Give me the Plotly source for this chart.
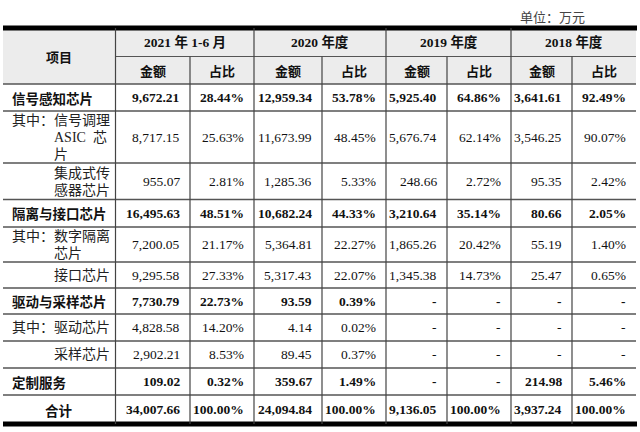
import plotly.graph_objects as go

# ---------------- data ----------------
row_labels = [
    ["信号感知芯片"],
    ["其中：信号调理", "ASIC　芯", "片"],
    ["集成式传", "感器芯片"],
    ["隔离与接口芯片"],
    ["其中：数字隔离", "芯片"],
    ["接口芯片"],
    ["驱动与采样芯片"],
    ["其中：驱动芯片"],
    ["采样芯片"],
    ["定制服务"],
    ["合计"],
]
bold_rows = [0, 3, 6, 9, 10]

periods = ["2021 年 1-6 月", "2020 年度", "2019 年度", "2018 年度"]
sub_headers = ["金额", "占比"]
corner_label = "项目"
unit_label = "单位：万元"

amt_2021 = [9672.21, 8717.15, 955.07, 16495.63, 7200.05, 9295.58, 7730.79, 4828.58, 2902.21, 109.02, 34007.66]
pct_2021 = [28.44, 25.63, 2.81, 48.51, 21.17, 27.33, 22.73, 14.20, 8.53, 0.32, 100.00]
amt_2020 = [12959.34, 11673.99, 1285.36, 10682.24, 5364.81, 5317.43, 93.59, 4.14, 89.45, 359.67, 24094.84]
pct_2020 = [53.78, 48.45, 5.33, 44.33, 22.27, 22.07, 0.39, 0.02, 0.37, 1.49, 100.00]
amt_2019 = [5925.40, 5676.74, 248.66, 3210.64, 1865.26, 1345.38, None, None, None, None, 9136.05]
pct_2019 = [64.86, 62.14, 2.72, 35.14, 20.42, 14.73, None, None, None, None, 100.00]
amt_2018 = [3641.61, 3546.25, 95.35, 80.66, 55.19, 25.47, None, None, None, 214.98, 3937.24]
pct_2018 = [92.49, 90.07, 2.42, 2.05, 1.40, 0.65, None, None, None, 5.46, 100.00]

columns = [amt_2021, pct_2021, amt_2020, pct_2020, amt_2019, pct_2019, amt_2018, pct_2018]
is_pct = [False, True, False, True, False, True, False, True]

# ---------------- layout geometry (pixels) ----------------
W, H = 640, 432
col_edges = [3, 115.5, 190, 254, 322, 386, 447, 511, 572, 636]
row_edges = [28, 56.5, 84, 111, 163, 199.5, 227, 262, 288, 314, 341, 368, 395, 424]
pad_r = 8
line_gap = 17

SERIF = "Liberation Serif, Noto Sans CJK SC, serif"
HEI = "Noto Sans CJK SC, sans-serif"
SONG = "Liberation Serif, Noto Sans CJK SC, serif"

fig = go.Figure()
shapes = []
ann = []

def add_text(x, y, text, anchor="center", size=13.5, bold=False, family=SERIF, color="#111"):
    ann.append(dict(
        x=x, y=y, xref="x", yref="y", text=(f"<b>{text}</b>" if bold else text),
        showarrow=False, xanchor=anchor, yanchor="middle",
        font=dict(family=family, size=size, color=color),
    ))

# header background
shapes.append(dict(type="rect", xref="x", yref="y", x0=col_edges[0], x1=col_edges[-1],
                   y0=row_edges[0], y1=row_edges[2], fillcolor="#ececec", line=dict(width=0), layer="below"))

# horizontal lines
shapes.append(dict(type="line", xref="x", yref="y", x0=col_edges[1], x1=col_edges[-1],
                   y0=row_edges[1], y1=row_edges[1], line=dict(color="#555", width=1.2)))
for i, y in enumerate(row_edges[2:-1]):
    shapes.append(dict(type="line", xref="x", yref="y", x0=col_edges[0], x1=col_edges[-1],
                       y0=y, y1=y, line=dict(color="#555", width=1.6 if i == 0 else 1.3)))
for y in (row_edges[0], row_edges[-1]):
    shapes.append(dict(type="line", xref="x", yref="y", x0=col_edges[0], x1=col_edges[-1] + 1,
                       y0=y, y1=y, line=dict(color="#000", width=5)))

# vertical lines
for j, x in enumerate(col_edges[1:-1], start=1):
    top = row_edges[0] if j % 2 == 1 else row_edges[1]
    shapes.append(dict(type="line", xref="x", yref="y", x0=x, x1=x,
                       y0=top, y1=row_edges[-1], line=dict(color="#444", width=1.2)))

# unit label
add_text(587, 17, unit_label, anchor="right", size=13, family=SONG, color="#444")

# headers
add_text((col_edges[0] + col_edges[1]) / 2, (row_edges[0] + row_edges[2]) / 2, corner_label,
         size=13, bold=True, family=HEI)
for k, p in enumerate(periods):
    x0, x1 = col_edges[1 + 2 * k], col_edges[3 + 2 * k]
    add_text((x0 + x1) / 2, (row_edges[0] + row_edges[1]) / 2, p, size=13.5, bold=True)
    for s in range(2):
        a, b = col_edges[1 + 2 * k + s], col_edges[2 + 2 * k + s]
        add_text((a + b) / 2, (row_edges[1] + row_edges[2]) / 2, sub_headers[s],
                 size=13, bold=True, family=HEI)

# body
label_right = col_edges[1] - 7
for r, lines in enumerate(row_labels):
    yc = (row_edges[r + 2] + row_edges[r + 3]) / 2
    bold = r in bold_rows
    n = len(lines)
    for i, ln in enumerate(lines):
        y = yc + (i - (n - 1) / 2) * line_gap
        if r == len(row_labels) - 1:
            add_text((col_edges[0] + col_edges[1]) / 2, y, ln, size=13.5, bold=True, family=HEI)
        elif bold:
            add_text(10, y, ln, anchor="left", size=13.5, bold=True, family=HEI)
        else:
            x = 10 if (i == 0 and ln.startswith("其中")) else 52
            if "　" in ln:
                left, right = ln.split("　", 1)
                add_text(x, y, left, anchor="left", size=14, family=SONG, color="#222")
                add_text(label_right, y, right, anchor="right", size=14, family=SONG, color="#222")
            else:
                add_text(x, y, ln, anchor="left", size=14, family=SONG, color="#222")
    for c, vals in enumerate(columns):
        v = vals[r]
        txt = "-" if v is None else (f"{v:.2f}%" if is_pct[c] else f"{v:,.2f}")
        add_text(col_edges[c + 2] - pad_r, yc, txt, anchor="right", size=13.5, bold=bold)

fig.update_layout(
    width=W, height=H, margin=dict(l=0, r=0, t=0, b=0),
    paper_bgcolor="white", plot_bgcolor="white",
    xaxis=dict(range=[0, W], visible=False, fixedrange=True),
    yaxis=dict(range=[H, 0], visible=False, fixedrange=True),
    shapes=shapes, annotations=ann, showlegend=False,
)
fig.write_html("out.html", config={"displayModeBar": False},
               post_script="document.body.style.margin='0px';")
